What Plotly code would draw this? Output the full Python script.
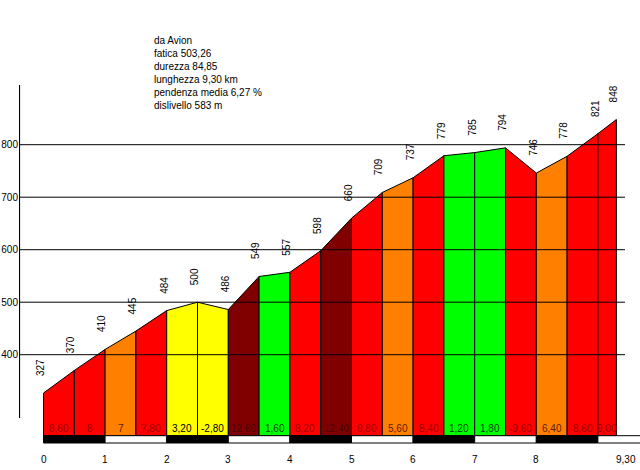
import plotly.graph_objects as go

# ---- data ----
km = [0, 0.5, 1, 1.5, 2, 2.5, 3, 3.5, 4, 4.5, 5, 5.5, 6, 6.5, 7, 7.5, 8, 8.5, 9, 9.3]
alt = [327, 370, 410, 445, 484, 500, 486, 549, 557, 598, 660, 709, 737, 779, 785, 794, 746, 778, 821, 848]
grad_labels = ["8,60", "8", "7", "7,80", "3,20", "-2,80", "12,60", "1,60", "8,20", "12,40",
               "9,80", "5,60", "8,40", "1,20", "1,80", "-9,60", "6,40", "8,60", "9,00"]
y_ticks = [400, 500, 600, 700, 800]
x_tick_vals = [0, 1, 2, 3, 4, 5, 6, 7, 8, 9.3]
x_tick_text = ["0", "1", "2", "3", "4", "5", "6", "7", "8", "9,30"]
info_lines = ["da Avion", "fatica 503,26", "durezza 84,85", "lunghezza 9,30 km",
              "pendenza media 6,27 %", "dislivello 583 m"]

# ---- pixel geometry helpers ----
W, H = 640, 470
ML = 19
X0PX, PXKM = 43.5, 61.6
Y400PX, PXM = 354.7, 0.525


def ydat(px):
    return 400 - (px - Y400PX) / PXM


def xdat(px):
    return (px - X0PX) / PXKM


BASE = ydat(435.7)
STRIP_BOT = ydat(443)


def gval(s):
    return float(s.replace(",", "."))


def colors(g):
    a = abs(g)
    if a < 2:
        return "#00ff00", "#004400"
    if a < 5:
        return "#ffff00", "#000000"
    if a < 7.5:
        return "#ff8000", "#5a2000"
    if a < 10:
        return "#ff0000", "#a00000"
    return "#800000", "#4a0000"


fig = go.Figure()
annotations = []
for i, lab in enumerate(grad_labels):
    g = gval(lab)
    fc, tc = colors(g)
    xa, xb = km[i], km[i + 1]
    fig.add_trace(go.Scatter(
        x=[xa, xa, xb, xb, xa], y=[BASE, alt[i], alt[i + 1], BASE, BASE],
        mode="lines", fill="toself", fillcolor=fc,
        line=dict(color="#000000", width=1), hoverinfo="skip", showlegend=False))
    annotations.append(dict(x=(xa + xb) / 2, y=ydat(428), text=lab, showarrow=False,
                            font=dict(family="Liberation Sans, Arial", size=10, color=tc),
                            xanchor="center", yanchor="middle"))

# altitude labels
for x, a in zip(km, alt):
    annotations.append(dict(x=x, y=a, text=str(a), showarrow=False, textangle=-90,
                            font=dict(family="Liberation Sans, Arial", size=10, color="#000000"),
                            xanchor="center", yanchor="bottom", yshift=15, xshift=-3))

# x tick labels
for v, t in zip(x_tick_vals, x_tick_text):
    last = t == x_tick_text[-1]
    annotations.append(dict(x=v, y=ydat(459), text=t, showarrow=False,
                            font=dict(family="Liberation Sans, Arial", size=10, color="#000000"),
                            xanchor="left" if last else "center", yanchor="middle",
                            xshift=-2 if last else 0))

# info text block
annotations.append(dict(xref="paper", yref="paper", x=(152 - ML) / (W - ML), y=1 - 33 / H,
                        xanchor="left", yanchor="top", align="left", showarrow=False,
                        text="<br>".join(info_lines),
                        font=dict(family="Liberation Sans, Arial", size=10, color="#000000")))

shapes = []
# horizontal grid lines (on top)
for v in y_ticks:
    shapes.append(dict(type="line", x0=xdat(19), x1=xdat(625), y0=v, y1=v,
                       line=dict(color="#000000", width=1), layer="above"))
# y axis line
shapes.append(dict(type="line", x0=xdat(19.5), x1=xdat(19.5), y0=ydat(85), y1=ydat(418),
                   line=dict(color="#000000", width=1.2), layer="above"))
# km strip
kms = list(range(0, 10))
for k in kms:
    xa = k
    xb = k + 1 if k < 9 else xdat(W + 2)
    black = (k % 2 == 0)
    shapes.append(dict(type="rect", x0=xa, x1=xb, y0=STRIP_BOT, y1=BASE,
                       fillcolor="#000000" if black else "#ffffff",
                       line=dict(color="#000000", width=1), layer="above"))

fig.update_layout(
    width=W, height=H, margin=dict(l=ML, r=0, t=0, b=0),
    paper_bgcolor="#ffffff", plot_bgcolor="#ffffff",
    xaxis=dict(range=[xdat(ML), xdat(W)], visible=False, fixedrange=True),
    yaxis=dict(range=[ydat(H), ydat(0)], tickvals=y_ticks, ticks="", showgrid=False,
               zeroline=False, showline=False, automargin=False,
               tickfont=dict(family="Liberation Sans, Arial", size=10, color="#000000")),
    annotations=annotations, shapes=shapes, showlegend=False,
)
fig.write_html("out.html")
